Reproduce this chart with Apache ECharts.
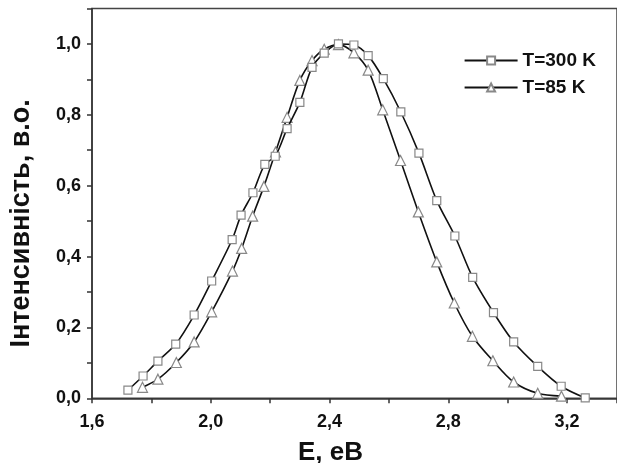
<!DOCTYPE html>
<html><head><meta charset="utf-8">
<script src="https://cdn.jsdelivr.net/npm/echarts@6/dist/echarts.min.js"></script>
<style>html,body{margin:0;padding:0;background:#fff}#c{width:617px;height:463px}</style>
</head><body><div id="c"></div>
<script>
const energy300 = [1.721,1.772,1.822,1.882,1.944,2.003,2.072,2.102,2.142,2.182,2.217,2.257,2.300,2.341,2.382,2.430,2.482,2.530,2.581,2.640,2.701,2.761,2.822,2.882,2.952,3.020,3.101,3.180,3.261];
const int300    = [0.023,0.063,0.105,0.153,0.235,0.331,0.448,0.517,0.580,0.660,0.683,0.761,0.835,0.934,0.974,1.000,0.997,0.967,0.902,0.808,0.692,0.558,0.458,0.341,0.242,0.159,0.090,0.034,0.001];
const energy85  = [1.770,1.822,1.884,1.944,2.003,2.073,2.104,2.141,2.179,2.218,2.257,2.300,2.341,2.382,2.430,2.482,2.530,2.579,2.639,2.699,2.761,2.820,2.881,2.950,3.020,3.101,3.181];
const int85     = [0.031,0.054,0.101,0.159,0.244,0.359,0.423,0.514,0.598,0.695,0.793,0.897,0.953,0.985,0.998,0.975,0.926,0.814,0.671,0.526,0.385,0.269,0.175,0.106,0.046,0.014,0.006];
const seriesNames = ['T=300 K','T=85 K'];
const xTicks = [1.6,2.0,2.4,2.8,3.2];
const yTicks = [0.0,0.2,0.4,0.6,0.8,1.0];

const FONT = 'Liberation Sans, Arial, sans-serif';
const comma = v => Number(v).toFixed(1).replace('.', ',');
const chart = echarts.init(document.getElementById('c'), null, {renderer:'canvas'});
const pairs = (xs, ys) => xs.map((x,i)=>[x, ys[i]]);
const axisLineStyle = {color:'#333', width:1.5};
chart.setOption({
  animation:false,
  backgroundColor:'#fff',
  grid:{left:92, top:8.5, right:0, bottom:64.7, containLabel:false, outerBoundsMode:'none',
        show:true, borderColor:'#444', borderWidth:1.5, backgroundColor:'transparent'},
  legend:{
    right:16, top:46, orient:'vertical', itemGap:8, itemWidth:53, itemHeight:10,
    textStyle:{fontFamily:FONT, fontWeight:'bold', fontSize:19, color:'#111'},
    data:seriesNames
  },
  xAxis:{
    type:'value', min:1.6, max:3.368, interval:0.4,
    name:'E, eB', nameLocation:'middle', nameGap:42,
    nameTextStyle:{fontFamily:FONT, fontWeight:'bold', fontSize:26, color:'#111', padding:[0,48,0,0]},
    axisLine:{show:true, onZero:false, lineStyle:axisLineStyle},
    axisTick:{show:true, inside:false, length:5, lineStyle:axisLineStyle},
    minorTick:{show:true, splitNumber:2, length:5, lineStyle:axisLineStyle},
    splitLine:{show:false},
    axisLabel:{fontFamily:FONT, fontWeight:'bold', fontSize:18, color:'#111', margin:15,
      showMaxLabel:false, formatter:v => xTicks.some(t=>Math.abs(t-v)<1e-6) ? comma(v) : ''}
  },
  yAxis:{
    type:'value', min:0, max:1.1, interval:0.2,
    name:'Інтенсивність, в.о.', nameLocation:'middle', nameGap:57, nameRotate:90,
    nameTextStyle:{fontFamily:FONT, fontWeight:'bold', fontSize:27, color:'#111', padding:[0,40,0,0]},
    axisLine:{show:true, onZero:false, lineStyle:axisLineStyle},
    axisTick:{show:true, inside:false, length:5, lineStyle:axisLineStyle},
    minorTick:{show:true, splitNumber:2, length:5, lineStyle:axisLineStyle},
    splitLine:{show:false},
    axisLabel:{fontFamily:FONT, fontWeight:'bold', fontSize:18, color:'#111', margin:11,
      showMaxLabel:false, formatter:v => yTicks.some(t=>Math.abs(t-v)<1e-6) ? comma(v) : ''}
  },
  series:[{
    name:seriesNames[0], type:'line', smooth:0.3,
    data:pairs(energy300,int300),
    symbol:'rect', symbolSize:8,
    lineStyle:{color:'#111', width:1.6},
    itemStyle:{color:'#fff', borderColor:'#888', borderWidth:1.2},
    z:3
  },{
    name:seriesNames[1], type:'line', smooth:0.3,
    data:pairs(energy85,int85),
    symbol:'triangle', symbolSize:10,
    lineStyle:{color:'#111', width:1.6},
    itemStyle:{color:'#fff', borderColor:'#888', borderWidth:1.2},
    z:2
  }]
});
</script></body></html>
